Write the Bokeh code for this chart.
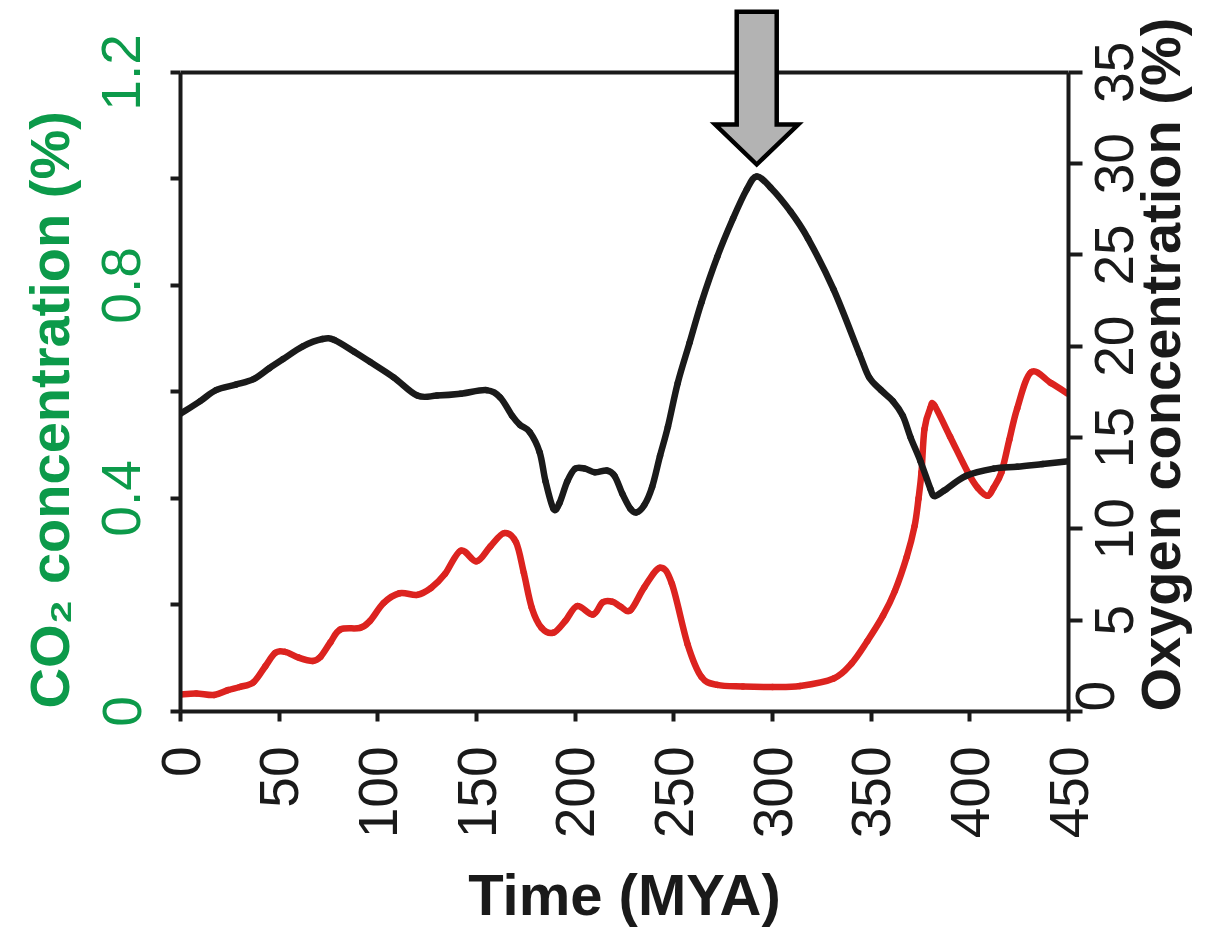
import math
from bokeh.plotting import figure
from bokeh.models import Range1d, LinearAxis, FixedTicker, Title, CustomJSTickFormatter
from bokeh.embed import file_html
from bokeh.resources import INLINE

# ---------------- data ----------------
time_o2 = [0, 10, 18, 28, 37, 45, 52, 62, 72, 78, 88, 96, 108, 120, 130, 142, 155,
           162, 168, 172, 177, 182, 185, 189, 192, 196, 200, 205, 210, 216, 220, 224,
           228, 231, 235, 239, 243, 247, 252, 258, 264, 272, 280, 287, 292, 299, 309,
           318, 331, 344, 349, 355, 361, 366, 370, 375, 380, 382, 387, 398, 412, 424,
           437, 450]
o2 = [16.3, 17.0, 17.6, 17.9, 18.2, 18.8, 19.3, 20.0, 20.4, 20.35, 19.7, 19.15, 18.3,
      17.3, 17.3, 17.4, 17.6, 17.2, 16.2, 15.7, 15.3, 14.2, 12.6, 11.1, 11.4, 12.6,
      13.3, 13.3, 13.1, 13.2, 12.9, 11.9, 11.1, 10.9, 11.3, 12.3, 14.0, 15.6, 18.0,
      20.2, 22.4, 24.9, 27.0, 28.6, 29.3, 28.7, 27.4, 25.9, 23.1, 19.6, 18.3, 17.6,
      17.0, 16.2, 15.0, 13.7, 12.2, 11.8, 12.1, 12.9, 13.3, 13.4, 13.55, 13.7]

time_co2 = [0, 8, 17, 24, 30, 37, 43, 48, 53, 60, 67, 71, 76, 81, 91, 96, 103, 111,
            120, 127, 134, 142, 150, 157, 164, 170, 174, 178, 183, 189, 195, 201, 209,
            214, 219, 223, 228, 235, 243, 249, 257, 264, 272, 285, 300, 314, 331, 340,
            348, 356, 362, 368, 372, 374, 375.5, 377, 380, 382, 390, 399, 404, 409,
            412, 416, 420, 424, 431, 441, 450]
co2 = [0.032, 0.034, 0.031, 0.040, 0.046, 0.055, 0.085, 0.110, 0.112, 0.101, 0.095,
       0.103, 0.130, 0.154, 0.157, 0.170, 0.204, 0.222, 0.219, 0.232, 0.258, 0.302,
       0.282, 0.310, 0.335, 0.318, 0.260, 0.195, 0.157, 0.148, 0.170, 0.198, 0.182,
       0.205, 0.206, 0.197, 0.190, 0.233, 0.270, 0.240, 0.126, 0.065, 0.050, 0.047,
       0.046, 0.048, 0.062, 0.090, 0.132, 0.180, 0.226, 0.290, 0.348, 0.400, 0.449,
       0.530, 0.570, 0.575, 0.516, 0.449, 0.420, 0.405, 0.420, 0.449, 0.510, 0.569,
       0.637, 0.617, 0.596]

x_ticks = [0, 50, 100, 150, 200, 250, 300, 350, 400, 450]
o2_ticks = [0, 5, 10, 15, 20, 25, 30, 35]
co2_major = [0, 0.4, 0.8, 1.2]
co2_minor = [0.2, 0.6, 1.0]

x_title = "Time (MYA)"
co2_title = "CO\u2082 concentration (%)"
o2_title = "Oxygen concentration (%)"

# ---------------- styling / layout ----------------
GREEN = "#0c9a4a"
RED = "#dc231f"
BLACK = "#1a1a1a"
FONT = "Liberation Sans"
TICK_PX = 55
LABEL_EXT = 45            # approx. extent Bokeh reserves for a rotated tick label

W, H = 1227, 930
LEFT, FRAME_W = 180, 888
FRAME_BOTTOM = 712                       # frame spans figure y 0..712
BOTTOM = H - FRAME_BOTTOM
px_y = 640.0 / o2_ticks[-1]              # pixels per % O2
px_x = FRAME_W / float(x_ticks[-1])      # pixels per MYA
y_top = FRAME_BOTTOM / px_y
co2_scale = co2_major[-1] / o2_ticks[-1]

p = figure(width=W, height=H, x_range=Range1d(x_ticks[0], x_ticks[-1]),
           y_range=Range1d(0, y_top), output_backend="svg", toolbar_location=None,
           x_axis_location=None, y_axis_location=None,
           min_border_left=LEFT, min_border_right=W - LEFT - FRAME_W,
           min_border_top=0, min_border_bottom=BOTTOM, outline_line_color=None,
           background_fill_color="white", border_fill_color="white")
p.grid.visible = False
p.extra_y_ranges = {"co2": Range1d(0, y_top * co2_scale)}
# label-only range for the right axis: shifted by half a two-digit label so that
# the upward-running labels end up centred on their ticks
lab_shift = 0.556 * TICK_PX / px_y
p.extra_y_ranges["o2lab"] = Range1d(lab_shift, y_top + lab_shift)

common = dict(axis_line_width=4, axis_line_color=BLACK, major_tick_line_width=4,
              major_tick_line_color=BLACK, major_tick_in=0, minor_tick_out=0,
              major_label_text_font=FONT, major_label_text_font_size=f"{TICK_PX}px")
has_orient = "axis_label_orientation" in LinearAxis.properties()
has_align = "axis_label_align" in LinearAxis.properties()

# bottom axis
xaxis = LinearAxis(ticker=FixedTicker(ticks=x_ticks), major_tick_out=10,
                   major_label_orientation=math.pi / 2, major_label_standoff=25,
                   major_label_text_color=BLACK, axis_label=x_title,
                   axis_label_standoff=21, axis_label_text_color=BLACK,
                   axis_label_text_font=FONT, axis_label_text_font_style="bold",
                   axis_label_text_font_size="58px", **common)
p.add_layout(xaxis, "below")

# left (CO2) axis
L_STANDOFF = 30
laxis = LinearAxis(y_range_name="co2",
                   ticker=FixedTicker(ticks=co2_major, minor_ticks=co2_minor),
                   bounds=(0, co2_major[-1]), major_tick_out=10,
                   major_label_orientation="parallel", major_label_standoff=L_STANDOFF,
                   major_label_text_color=GREEN,
                   formatter=CustomJSTickFormatter(
                       code="return tick == 0 ? '0' : tick.toFixed(1);"),
                   **common)
laxis.minor_tick_out = 10
laxis.minor_tick_in = 0
laxis.minor_tick_line_width = 4
laxis.minor_tick_line_color = BLACK
p.add_layout(laxis, "left")
p.add_layout(Title(text=co2_title, align="left", vertical_align="top", offset=3,
                   standoff=34, text_font=FONT, text_font_style="bold",
                   text_font_size="56px", text_color=GREEN), "left")

# right (O2) axis: ticks + the "0" label
R_STANDOFF = 12
raxis = LinearAxis(ticker=FixedTicker(ticks=o2_ticks), bounds=(0, o2_ticks[-1]),
                   major_tick_out=14, major_label_orientation=math.pi / 2,
                   major_label_standoff=R_STANDOFF, major_label_text_color=BLACK,
                   formatter=CustomJSTickFormatter(
                       code="return tick == 0 ? '0\\u00a0\\u00a0' : '';"),
                   **common)
p.add_layout(raxis, "right")

# right labels 5..35 and the axis title
rlab = LinearAxis(y_range_name="o2lab", ticker=FixedTicker(ticks=o2_ticks),
                  axis_line_color=None, major_tick_line_color=None,
                  major_tick_out=0, major_tick_in=0, minor_tick_out=0,
                  major_label_orientation=math.pi / 2,
                  major_label_standoff=-LABEL_EXT,
                  major_label_text_color=BLACK, major_label_text_font=FONT,
                  major_label_text_font_size=f"{TICK_PX}px",
                  formatter=CustomJSTickFormatter(
                      code="return tick < 10 ? '\\u00a0' + tick + '\\u00a0' : '' + tick;"),
                  axis_label=o2_title, axis_label_standoff=-19,
                  axis_label_text_color=BLACK, axis_label_text_font=FONT,
                  axis_label_text_font_style="bold", axis_label_text_font_size="56px")
if has_orient:
    rlab.axis_label_orientation = math.pi / 2
if has_align:
    rlab.axis_label_align = "start"
p.add_layout(rlab, "right")

# top border of the plot box
p.segment(x0=[x_ticks[0]], y0=[o2_ticks[-1]], x1=[x_ticks[-1]], y1=[o2_ticks[-1]],
          line_color=BLACK, line_width=4)


def smooth_segments(xs, ys):
    """Cubic (Catmull-Rom style) Bezier pieces through the read points."""
    n = len(xs)
    out = dict(x0=[], y0=[], x1=[], y1=[], cx0=[], cy0=[], cx1=[], cy1=[])
    for i in range(n - 1):
        i0, i3 = max(i - 1, 0), min(i + 2, n - 1)
        out["x0"].append(xs[i]); out["y0"].append(ys[i])
        out["x1"].append(xs[i + 1]); out["y1"].append(ys[i + 1])
        out["cx0"].append(xs[i] + (xs[i + 1] - xs[i0]) / 6.0)
        out["cy0"].append(ys[i] + (ys[i + 1] - ys[i0]) / 6.0)
        out["cx1"].append(xs[i + 1] - (xs[i3] - xs[i]) / 6.0)
        out["cy1"].append(ys[i + 1] - (ys[i3] - ys[i]) / 6.0)
    return out


# data lines
p.bezier(**smooth_segments(time_co2, co2), y_range_name="co2", line_color=RED,
         line_width=6.5, line_cap="round")
p.bezier(**smooth_segments(time_o2, o2), line_color=BLACK, line_width=6.5,
         line_cap="round")

# arrow pointing at the O2 maximum
i_pk = max(range(len(o2)), key=lambda i: o2[i])
tip_x = time_o2[i_pk]
tip_y = o2[i_pk] + 12 / px_y
head_y = tip_y + 40 / px_y
top_y = tip_y + 153 / px_y
hw = 41.5 / px_x
sw = 20 / px_x
ax = [tip_x, tip_x + hw, tip_x + sw, tip_x + sw, tip_x - sw, tip_x - sw, tip_x - hw]
ay = [tip_y, head_y, head_y, top_y, top_y, head_y, head_y]
p.patch(ax, ay, fill_color="#b3b3b3", line_color="black", line_width=4.5,
        line_join="miter")

open("out.html", "w").write(file_html(p, INLINE))
